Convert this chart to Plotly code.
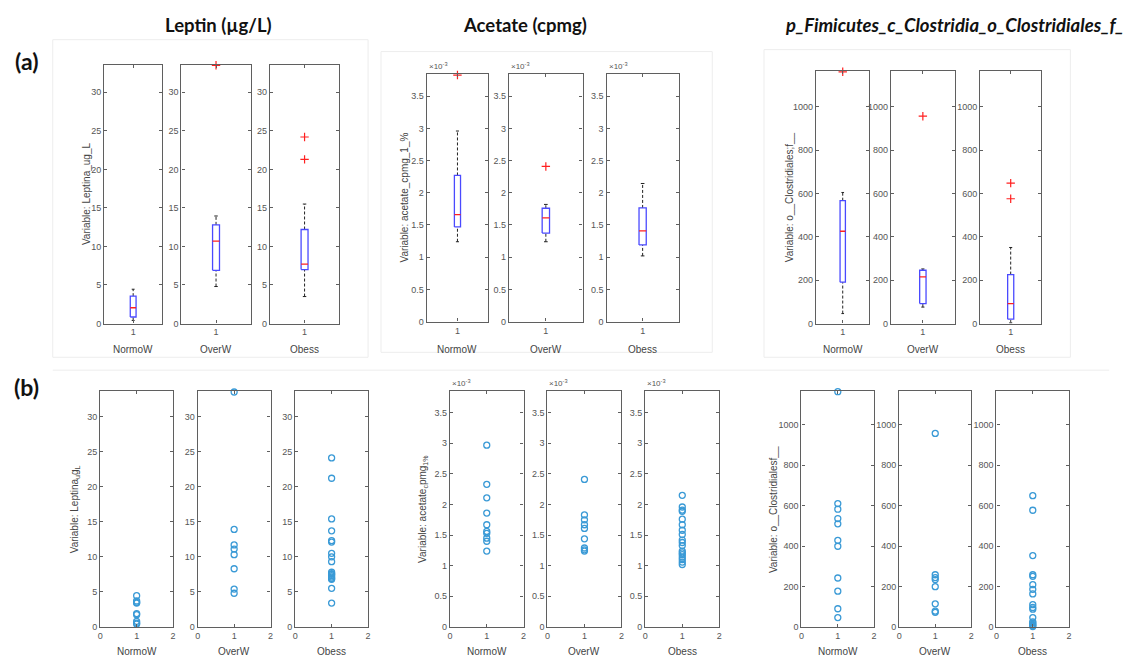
import plotly.graph_objects as go

W, H = 1146, 662

groups = ["NormoW", "OverW", "Obess"]

# ---- Leptin (µg/L): boxplot summaries and individual values per group ----
leptin_lo = [0.4, 4.8, 3.5]
leptin_q1 = [0.85, 6.9, 7.0]
leptin_med = [2.05, 10.7, 7.7]
leptin_q3 = [3.55, 12.8, 12.2]
leptin_hi = [4.45, 13.95, 15.5]
leptin_out = [[], [33.5], [24.2, 21.3]]
leptin_normow = [4.45, 3.7, 3.5, 3.4, 1.9, 1.75, 0.8, 0.55, 0.42]
leptin_overw = [33.5, 13.9, 11.7, 11.1, 10.3, 8.3, 5.4, 4.8]
leptin_obess = [24.1, 21.2, 15.4, 13.7, 12.3, 12.1, 10.5, 10.0, 9.3, 7.8,
                7.6, 7.5, 7.3, 7.1, 6.9, 6.8, 5.5, 3.4]
leptin_ticks = [0, 5, 10, 15, 20, 25, 30]

# ---- Acetate (cpmg), values in units of 1e-3 ----
acetate_lo = [1.24, 1.24, 1.02]
acetate_q1 = [1.47, 1.375, 1.19]
acetate_med = [1.66, 1.61, 1.41]
acetate_q3 = [2.27, 1.76, 1.765]
acetate_hi = [2.96, 1.82, 2.145]
acetate_out = [[3.83], [2.41], []]
acetate_normow = [3.86, 2.97, 2.33, 2.11, 1.86, 1.67, 1.56, 1.53, 1.45, 1.40, 1.24]
acetate_overw = [2.41, 1.83, 1.75, 1.67, 1.61, 1.44, 1.29, 1.26, 1.24]
acetate_obess = [2.15, 1.96, 1.91, 1.89, 1.76, 1.67, 1.58, 1.51, 1.42, 1.38,
                 1.33, 1.24, 1.21, 1.18, 1.14, 1.10, 1.06, 1.02]
acetate_ticks = [0, 0.5, 1, 1.5, 2, 2.5, 3, 3.5]

# ---- o__Clostridiales;f__ counts ----
clost_lo = [46, 76, 3]
clost_q1 = [191, 92, 20]
clost_med = [426, 215, 92]
clost_q3 = [567, 246, 226]
clost_hi = [605, 252, 351]
clost_out = [[1162], [957], [648, 576]]
clost_normow = [1163, 610, 582, 536, 510, 428, 399, 242, 177, 90, 46]
clost_overw = [957, 258, 244, 234, 199, 114, 78, 72]
clost_obess = [649, 577, 353, 258, 250, 209, 186, 163, 110, 96, 88, 46, 25,
               20, 13, 7, 2]
clost_ticks = [0, 200, 400, 600, 800, 1000]

variables = [
    dict(lo=leptin_lo, q1=leptin_q1, med=leptin_med, q3=leptin_q3, hi=leptin_hi,
         out=leptin_out, pts=[leptin_normow, leptin_overw, leptin_obess],
         ticks=leptin_ticks, ymax=33.6, exp=False,
         ylab_a="Variable: Leptina_ug_L",
         ylab_b="Variable: Leptina<sub>u</sub>g<sub>L</sub>",
         title="<b>Leptin (µg/L)</b>", title_x=217,
         a_x=[(101.7, 160), (179.3, 249), (268.3, 338)], a_y=(65, 326), a_lab=83.5,
         b_x=[(97.7, 171), (195.7, 269), (293.7, 367)], b_lab=72.5),
    dict(lo=acetate_lo, q1=acetate_q1, med=acetate_med, q3=acetate_q3, hi=acetate_hi,
         out=acetate_out, pts=[acetate_normow, acetate_overw, acetate_obess],
         ticks=acetate_ticks, ymax=3.85, exp=True,
         ylab_a="Variable: acetate_cpmg_1_%",
         ylab_b="Variable: acetate<sub>c</sub>pmg<sub>1%</sub>",
         title="<b>Acetate (cpmg)</b>", title_x=525,
         a_x=[(426, 487.7), (508.7, 582.7), (606.7, 679.3)], a_y=(74.3, 324), a_lab=404,
         b_x=[(449.3, 523.3), (547.3, 621.7), (645.7, 720)], b_lab=422),
    dict(lo=clost_lo, q1=clost_q1, med=clost_med, q3=clost_q3, hi=clost_hi,
         out=clost_out, pts=[clost_normow, clost_overw, clost_obess],
         ticks=clost_ticks, ymax=1165, exp=False,
         ylab_a="Variable: o__Clostridiales;f__",
         ylab_b="Variable: o__Clostridialesf__",
         title="<b><i>p_Fimicutes_c_Clostridia_o_Clostridiales_f_</i></b>", title_x=957,
         a_x=[(817.3, 871), (892.7, 956.7), (982.3, 1043.7)], a_y=(71.7, 326), a_lab=790,
         b_x=[(802.7, 875.7), (901, 973.3), (998.7, 1071.7)], b_lab=774),
]
B_Y = (394.3, 631.7)

AX = "#5f5f5f"
TICKFONT = dict(family="Liberation Sans, Arial", size=9, color="#555555")
LABFONT = dict(family="Liberation Sans, Arial", size=10, color="#444444")
BOX_C = "#4a4aff"
MED_C = "#ff2020"
OUT_C = "#ff2020"
DOT_C = "#3a9ad6"
BW = 0.05   # half box width (x units)
CW = 0.025  # half cap width

fig = go.Figure()
layout = {}
annotations = []
shapes = []


def fx(px):
    return px / W


def fy(py):
    return 1 - py / H


def add_axes(n, xr, xdom, ydom, xticks, ymax, yticks):
    sx = "" if n == 1 else str(n)
    base = dict(showline=True, linecolor=AX, linewidth=1.3, mirror="ticks",
                ticks="inside", ticklen=3, tickcolor=AX, tickwidth=1,
                showgrid=False, zeroline=False, tickfont=TICKFONT, fixedrange=True)
    layout["xaxis" + sx] = dict(base, domain=[fx(xdom[0]), fx(xdom[1])], range=xr,
                                tickvals=xticks, ticktext=[str(t) for t in xticks],
                                anchor="y" + sx)
    layout["yaxis" + sx] = dict(base, domain=[fy(ydom[1]), fy(ydom[0])], range=[0, ymax],
                                tickvals=yticks, ticktext=[f"{t:g}" for t in yticks],
                                anchor="x" + sx)
    return "x" + sx, "y" + sx


def line(xa, ya, xs, ys, color, width=1.2, dash="solid"):
    fig.add_trace(go.Scatter(x=xs, y=ys, xaxis=xa, yaxis=ya, mode="lines",
                             line=dict(color=color, width=width, dash=dash),
                             showlegend=False, hoverinfo="skip", cliponaxis=False))


def exp_label(x0, ytop):
    annotations.append(dict(x=fx(x0), y=fy(ytop - 1), xref="paper", yref="paper",
                            text="×10<sup>-3</sup>", showarrow=False,
                            font=dict(family="Liberation Sans, Arial", size=8, color="#555"),
                            xanchor="left", yanchor="bottom"))


n = 0
for v in variables:
    # (a) box plots
    for g in range(3):
        n += 1
        xa, ya = add_axes(n, [0.5, 1.5], v["a_x"][g], v["a_y"], [1], v["ymax"], v["ticks"])
        lo, q1, md, q3, hi = v["lo"][g], v["q1"][g], v["med"][g], v["q3"][g], v["hi"][g]
        line(xa, ya, [1, 1], [q3, hi], "#222222", 1, "3px,2px")
        line(xa, ya, [1, 1], [lo, q1], "#222222", 1, "3px,2px")
        line(xa, ya, [1 - CW, 1 + CW], [hi, hi], "#222222", 1)
        line(xa, ya, [1 - CW, 1 + CW], [lo, lo], "#222222", 1)
        line(xa, ya, [1 - BW, 1 + BW, 1 + BW, 1 - BW, 1 - BW], [q1, q1, q3, q3, q1], BOX_C, 1.3)
        line(xa, ya, [1 - BW, 1 + BW], [md, md], MED_C, 1.3)
        if v["out"][g]:
            fig.add_trace(go.Scatter(x=[1] * len(v["out"][g]), y=v["out"][g], xaxis=xa, yaxis=ya,
                                     mode="markers", showlegend=False, cliponaxis=False,
                                     marker=dict(symbol="cross-thin", size=6,
                                                 line=dict(color=OUT_C, width=1.2))))
        x0, x1 = v["a_x"][g]
        annotations.append(dict(x=fx((x0 + x1) / 2), y=fy(352), xref="paper", yref="paper",
                                text=groups[g], showarrow=False, font=LABFONT,
                                xanchor="center", yanchor="middle"))
        if v["exp"]:
            exp_label(x0, v["a_y"][0])
    annotations.append(dict(x=fx(v["a_lab"]), y=fy(sum(v["a_y"]) / 2), xref="paper", yref="paper",
                            text=v["ylab_a"], textangle=-90, showarrow=False, font=LABFONT,
                            xanchor="center", yanchor="middle"))

    # (b) individual values
    for g in range(3):
        n += 1
        xa, ya = add_axes(n, [0, 2], v["b_x"][g], B_Y, [0, 1, 2], v["ymax"], v["ticks"])
        pts = v["pts"][g]
        fig.add_trace(go.Scatter(x=[1] * len(pts), y=pts, xaxis=xa, yaxis=ya, mode="markers",
                                 showlegend=False, cliponaxis=False,
                                 marker=dict(symbol="circle-open", size=6,
                                             line=dict(color=DOT_C, width=1.3), color=DOT_C)))
        x0, x1 = v["b_x"][g]
        annotations.append(dict(x=fx((x0 + x1) / 2), y=fy(656), xref="paper", yref="paper",
                                text=groups[g], showarrow=False, font=LABFONT,
                                xanchor="center", yanchor="middle"))
        if v["exp"]:
            exp_label(x0, B_Y[0])
    annotations.append(dict(x=fx(v["b_lab"]), y=fy(sum(B_Y) / 2), xref="paper", yref="paper",
                            text=v["ylab_b"], textangle=-90, showarrow=False, font=LABFONT,
                            xanchor="center", yanchor="middle"))

    # column heading
    annotations.append(dict(x=fx(v["title_x"]), y=fy(25), xref="paper", yref="paper",
                            text=v["title"], showarrow=False,
                            font=dict(family="Lato, Carlito, sans-serif", size=18.5, color="#111"),
                            xanchor="center", yanchor="middle"))

# row labels
for txt, yy in [("<b>(a)</b>", 61), ("<b>(b)</b>", 390)]:
    annotations.append(dict(x=fx(23.5), y=fy(yy), xref="paper", yref="paper", text=txt,
                            showarrow=False, xanchor="center", yanchor="middle",
                            font=dict(family="Lato, sans-serif", size=23, color="#111")))

# faint frames around each exported figure panel
for (x0, y0, x1, y1) in [(50, 40, 367, 360), (380, 52, 713, 355), (765, 50, 1073, 360)]:
    shapes.append(dict(type="rect", xref="paper", yref="paper", x0=fx(x0), x1=fx(x1),
                       y0=fy(y1), y1=fy(y0), line=dict(color="#ededed", width=1),
                       layer="below"))
shapes.append(dict(type="line", xref="paper", yref="paper", x0=fx(50), x1=fx(1112),
                   y0=fy(373), y1=fy(373), line=dict(color="#ededed", width=1), layer="below"))

fig.update_layout(width=W, height=H, autosize=False,
                  margin=dict(l=0, r=0, t=0, b=0, pad=0),
                  paper_bgcolor="white", plot_bgcolor="white",
                  annotations=annotations, shapes=shapes, **layout)

fig.write_html("out.html", config={"displayModeBar": False})
